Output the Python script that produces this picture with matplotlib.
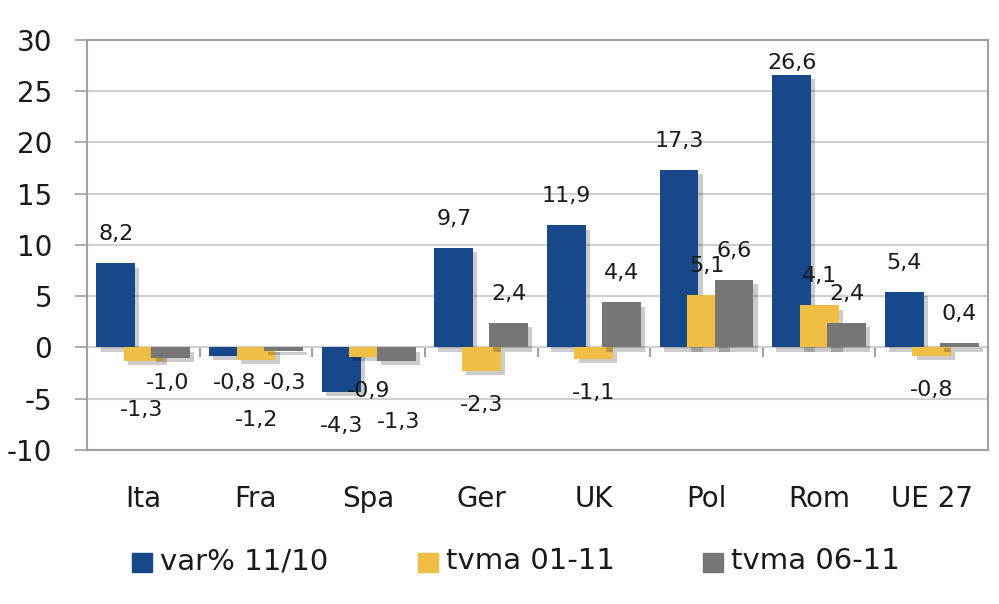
import numpy as np
import matplotlib
matplotlib.use("Agg")
import matplotlib.pyplot as plt
from matplotlib import patheffects as pe
from matplotlib.patches import Rectangle

# data
categories = ["Ita", "Fra", "Spa", "Ger", "UK", "Pol", "Rom", "UE 27"]
series_names = ["var% 11/10", "tvma 01-11", "tvma 06-11"]
var_11_10 = [8.2, -0.8, -4.3, 9.7, 11.9, 17.3, 26.6, 5.4]
tvma_01_11 = [-1.3, -1.2, -0.9, -2.3, -1.1, 5.1, 4.1, -0.8]
tvma_06_11 = [-1.0, -0.3, -1.3, 2.4, 4.4, 6.6, 2.4, 0.4]
yticks = [-10, -5, 0, 5, 10, 15, 20, 25, 30]

colors = ["#17488A", "#F0BD45", "#767676"]

# label nudges (pixels) where Excel moved labels by hand: (series, category) -> (dx, dy)
label_nudge = {
    (0, 6): (0, 12),
    (1, 0): (-2, -49),
    (2, 0): (-3, -25),
    (0, 1): (6, -27),
    (2, 1): (1, -32),
    (1, 1): (1, -60),
    (2, 2): (2, -61),
}

plt.rcParams["axes.unicode_minus"] = False
plt.rcParams["font.family"] = "DejaVu Sans"

DPI = 100
W, H = 999, 604
fig = plt.figure(figsize=(W / DPI, H / DPI), dpi=DPI)
ax = fig.add_axes([0.0871, 0.255, 0.902, 0.679])

x = np.arange(len(categories))
width = 0.345
offsets = [-0.244, 0.0, 0.244]
shadow = [pe.SimplePatchShadow(offset=(3, -3), shadow_rgbFace="black", alpha=0.2), pe.Normal()]

for i, vals in enumerate([var_11_10, tvma_01_11, tvma_06_11]):
    b = ax.bar(x + offsets[i], vals, width, color=colors[i], zorder=3 + i)
    for r in b:
        r.set_path_effects(shadow)
    for j, v in enumerate(vals):
        dx, dy = label_nudge.get((i, j), (0, 29 if v >= 0 else -34))
        ax.annotate(f"{v:.1f}".replace(".", ","), (x[j] + offsets[i], v),
                    xytext=(dx * 72 / DPI, dy * 72 / DPI), textcoords="offset points",
                    ha="center", va="center", fontsize=16, color="#1a1a1a", zorder=10)

ax.set_xlim(-0.5, len(categories) - 0.5)
ax.set_ylim(-10, 30)
ax.set_yticks(yticks)
ax.yaxis.grid(True, color="#D0D0D0", linewidth=1.5, zorder=0)
ax.set_axisbelow(True)
ax.tick_params(axis="y", length=9, width=1.2, color="#A0A0A0", pad=16, labelsize=20,
               labelcolor="#1a1a1a")
for s in ax.spines.values():
    s.set_color("#A0A0A0")
    s.set_linewidth(1.5)

ax.set_xticks(x)
ax.set_xticklabels(categories, fontsize=20, color="#1a1a1a")
ax.tick_params(axis="x", length=0, pad=25)

# category axis at zero with boundary tick marks
sec = ax.secondary_xaxis(10 / 40)
sec.set_xticks(np.arange(len(categories) + 1) - 0.5)
sec.tick_params(axis="x", length=7.5, width=1.5, color="#A0A0A0", direction="out")
sec.xaxis.set_ticks_position("bottom")
sec.spines["bottom"].set_color("#A0A0A0")
sec.spines["bottom"].set_linewidth(1.5)
sec.set_xticklabels([])

# legend laid out like the Excel one
key_x = [132, 418, 703]
for name, c, kx in zip(series_names, colors, key_x):
    fig.patches.append(Rectangle((kx / W, (H - 572) / H), 20 / W, 19 / H,
                                 transform=fig.transFigure, color=c))
    fig.text((kx + 28) / W, (H - 561) / H, name, ha="left", va="center",
             fontsize=21, color="#1a1a1a")

fig.savefig("out.png", dpi=DPI)
